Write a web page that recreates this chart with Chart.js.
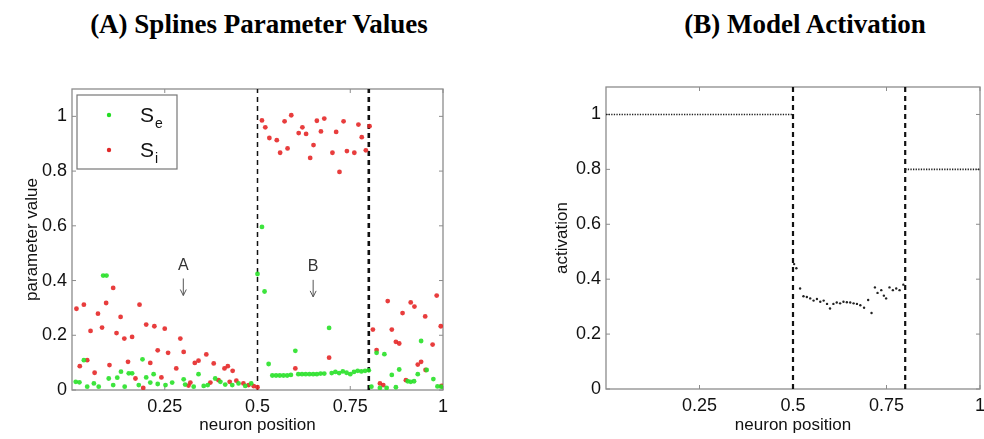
<!DOCTYPE html>
<html>
<head>
<meta charset="utf-8">
<script src="https://cdn.jsdelivr.net/npm/chart.js@4/dist/chart.umd.min.js"></script>
<style>
body { margin: 0; background: #fff; width: 984px; height: 439px; overflow: hidden; position: relative; }
.title { position: absolute; top: 9px; font: bold 27px "Liberation Serif", "Times New Roman", serif; color: #000; white-space: nowrap; transform: translateX(-50%); }
canvas { position: absolute; top: 0; }
</style>
</head>
<body>
<div class="title" style="left:259px">(A) Splines Parameter Values</div>
<div class="title" style="left:805px">(B) Model Activation</div>
<canvas id="paramChart" width="490" height="439" style="left:0"></canvas>
<canvas id="actChart" width="494" height="439" style="left:490px"></canvas>
<script>
'use strict';
// =============== data ===============
const positionTicks = [0.25, 0.5, 0.75, 1];
const valueTicks = [0, 0.2, 0.4, 0.6, 0.8, 1];
const boundaries = [0.5, 0.8];

// S_e per neuron
const seX = [0.01, 0.02, 0.032, 0.041, 0.059, 0.072, 0.084, 0.093, 0.099, 0.111, 0.122, 0.132, 0.142, 0.153, 0.162, 0.18, 0.19, 0.2, 0.211, 0.22, 0.231, 0.252, 0.27, 0.301, 0.305, 0.328, 0.341, 0.355, 0.366, 0.386, 0.4, 0.413, 0.432, 0.449, 0.467, 0.483,
    0.5, 0.512, 0.519, 0.53, 0.54, 0.55, 0.56, 0.57, 0.58, 0.59, 0.602, 0.61, 0.62, 0.63, 0.64, 0.65, 0.66, 0.67, 0.68, 0.693, 0.7, 0.71, 0.72, 0.73, 0.74, 0.75, 0.76, 0.77, 0.78, 0.79, 0.8,
    0.807, 0.821, 0.83, 0.842, 0.848, 0.862, 0.873, 0.882, 0.905, 0.913, 0.922, 0.932, 0.941, 0.956, 0.974, 0.985, 0.995];
const seY = [0.03, 0.028, 0.109, 0.012, 0.024, 0.012, 0.418, 0.418, 0.042, 0.018, 0.045, 0.067, 0.012, 0.061, 0.061, 0.018, 0.112, 0.046, 0.027, 0.058, 0.022, 0.018, 0.027, 0.039, 0.02, 0.012, 0.058, 0.015, 0.018, 0.042, 0.03, 0.02, 0.018, 0.024, 0.015, 0.024,
    0.424, 0.596, 0.36, 0.095, 0.053, 0.053, 0.053, 0.053, 0.053, 0.055, 0.143, 0.058, 0.058, 0.058, 0.058, 0.058, 0.058, 0.06, 0.06, 0.227, 0.062, 0.066, 0.062, 0.068, 0.063, 0.058, 0.066, 0.07, 0.068, 0.07, 0.072,
    0.012, 0.136, 0.008, 0.131, 0.008, 0.055, 0.01, 0.075, 0.032, 0.03, 0.032, 0.058, 0.179, 0.073, 0.04, 0.013, 0.012];

// S_i per neuron
const siX = [0.012, 0.021, 0.032, 0.041, 0.05, 0.061, 0.07, 0.081, 0.092, 0.101, 0.111, 0.12, 0.131, 0.141, 0.151, 0.162, 0.171, 0.182, 0.192, 0.2, 0.211, 0.222, 0.231, 0.241, 0.25, 0.259, 0.281, 0.292, 0.301, 0.314, 0.319, 0.331, 0.341, 0.362, 0.373, 0.382, 0.395, 0.411, 0.42, 0.425, 0.433, 0.443, 0.462, 0.476, 0.49, 0.5,
    0.512, 0.521, 0.532, 0.552, 0.561, 0.573, 0.581, 0.591, 0.602, 0.611, 0.621, 0.631, 0.642, 0.651, 0.66, 0.671, 0.68, 0.693, 0.702, 0.712, 0.721, 0.732, 0.741, 0.761, 0.772, 0.781, 0.792, 0.802,
    0.811, 0.821, 0.83, 0.839, 0.851, 0.862, 0.873, 0.882, 0.891, 0.9, 0.913, 0.923, 0.932, 0.941, 0.952, 0.953, 0.972, 0.983, 0.994, 0.996];
const siY = [0.297, 0.087, 0.312, 0.109, 0.216, 0.063, 0.279, 0.228, 0.318, 0.091, 0.373, 0.208, 0.267, 0.188, 0.103, 0.194, 0.042, 0.312, 0.008, 0.239, 0.099, 0.233, 0.145, 0.046, 0.224, 0.136, 0.079, 0.188, 0.139, 0.016, 0.027, 0.099, 0.107, 0.13, 0.027, 0.097, 0.036, 0.079, 0.087, 0.03, 0.07, 0.034, 0.024, 0.018, 0.014, 0.01,
    0.985, 0.96, 0.921, 0.913, 0.867, 0.982, 0.883, 1.004, 0.079, 0.939, 0.96, 0.936, 0.848, 0.895, 0.984, 0.945, 0.992, 0.118, 0.867, 0.943, 0.797, 0.982, 0.873, 0.867, 0.97, 0.924, 0.876, 0.964,
    0.221, 0.146, 0.024, 0.018, 0.325, 0.221, 0.176, 0.17, 0.281, 0.036, 0.32, 0.305, 0.093, 0.103, 0.269, 0.073, 0.166, 0.345, 0.233, 0.015];

// activation: flat levels outside the boundaries
const plateauStart = [0, 0.8];
const plateauEnd = [0.5, 1];
const plateauLevel = [1, 0.8];
// activation between the boundaries
const actX = [0.503, 0.509, 0.519, 0.528, 0.537, 0.546, 0.555, 0.564, 0.573, 0.582, 0.591, 0.599, 0.608, 0.617, 0.626, 0.635, 0.644, 0.653, 0.662, 0.671, 0.68, 0.69, 0.701, 0.71, 0.719, 0.726, 0.736, 0.743, 0.749, 0.758, 0.767, 0.776, 0.785, 0.795];
const actY = [0.455, 0.44, 0.366, 0.338, 0.335, 0.33, 0.322, 0.328, 0.318, 0.322, 0.31, 0.293, 0.31, 0.315, 0.312, 0.318, 0.316, 0.315, 0.312, 0.31, 0.305, 0.296, 0.324, 0.277, 0.37, 0.35, 0.36, 0.34, 0.33, 0.37, 0.36, 0.366, 0.36, 0.38];

// arrow marks in panel A
const markText = ['A', 'B'];
const markX = [0.3, 0.65];
const markY = [0.455, 0.45];

// =============== helpers ===============
const pts = (xs, ys) => xs.map((x, i) => ({ x: x, y: ys[i] }));
const tickFont = { family: '"Liberation Sans", Arial, sans-serif', size: 18 };
const titleFont = { family: '"Liberation Sans", Arial, sans-serif', size: 17 };

function boundaryLines(widths) {
    return boundaries.map((b, i) => ({
        data: [{ x: b, y: 0 }, { x: b, y: 1.1 }],
        showLine: true,
        borderColor: '#111',
        borderWidth: widths[i],
        borderDash: [5, 4],
        pointRadius: 0
    }));
}

function scales(yWidth, xHeight, yLabelPad, yTitle) {
    return {
        x: {
            type: 'linear', min: 0, max: 1,
            grid: { display: false, drawTicks: false },
            border: { display: false },
            afterBuildTicks: s => { s.ticks = positionTicks.map(v => ({ value: v })); },
            afterFit: s => { s.height = xHeight; s.paddingLeft = 0; s.paddingRight = 0; },
            ticks: { font: tickFont, color: '#111', padding: 6, maxRotation: 0, callback: v => String(v) },
            title: { display: true, text: 'neuron position', font: titleFont, color: '#111', padding: { top: 0, bottom: 3 } }
        },
        y: {
            type: 'linear', min: 0, max: 1.1,
            grid: { display: false, drawTicks: false },
            border: { display: false },
            afterBuildTicks: s => { s.ticks = valueTicks.map(v => ({ value: v })); },
            afterFit: s => { s.width = yWidth; },
            ticks: { font: tickFont, color: '#111', padding: 5, callback: v => String(v) },
            title: { display: true, text: yTitle, font: titleFont, color: '#111', padding: { top: yLabelPad, bottom: 0 } }
        }
    };
}

// box round the plot with inward ticks on all four sides
const frame = {
    id: 'frame',
    beforeDatasetsDraw(chart) {
        const { ctx, chartArea: a, scales: { x, y } } = chart;
        ctx.save();
        ctx.strokeStyle = '#8c8c8c';
        ctx.lineWidth = 1.3;
        ctx.strokeRect(a.left, a.top, a.width, a.height);
        ctx.lineWidth = 1;
        ctx.beginPath();
        positionTicks.forEach(v => {
            const px = x.getPixelForValue(v);
            ctx.moveTo(px, a.bottom); ctx.lineTo(px, a.bottom - 4);
            ctx.moveTo(px, a.top); ctx.lineTo(px, a.top + 4);
        });
        valueTicks.forEach(v => {
            const py = y.getPixelForValue(v);
            ctx.moveTo(a.left, py); ctx.lineTo(a.left + 4, py);
            ctx.moveTo(a.right, py); ctx.lineTo(a.right - 4, py);
        });
        ctx.stroke();
        ctx.restore();
    }
};

// letters with small down arrows
const marks = {
    id: 'marks',
    afterDatasetsDraw(chart) {
        const { ctx, scales: { x, y } } = chart;
        ctx.save();
        ctx.fillStyle = '#333';
        ctx.strokeStyle = '#555';
        ctx.lineWidth = 1;
        ctx.font = '16px "Liberation Sans", Arial, sans-serif';
        ctx.textAlign = 'center';
        ctx.textBaseline = 'middle';
        markText.forEach((t, i) => {
            const px = x.getPixelForValue(markX[i]);
            const py = y.getPixelForValue(markY[i]);
            ctx.fillText(t, px, py);
            ctx.beginPath();
            ctx.moveTo(px, py + 13); ctx.lineTo(px, py + 30);
            ctx.moveTo(px - 3, py + 24); ctx.lineTo(px, py + 30); ctx.lineTo(px + 3, py + 24);
            ctx.stroke();
        });
        ctx.restore();
    }
};

// legend box with subscripted names
const splineLegend = {
    id: 'splineLegend',
    afterDraw(chart) {
        const { ctx, chartArea: a } = chart;
        const left = a.left + 5, top = a.top + 6;
        ctx.save();
        ctx.fillStyle = '#fff';
        ctx.fillRect(left, top, 100, 74);
        ctx.strokeStyle = '#777';
        ctx.lineWidth = 1.2;
        ctx.strokeRect(left, top, 100, 74);
        [['#22dd22', 'e', 20], ['#e02828', 'i', 55]].forEach(([c, sub, dy]) => {
            ctx.fillStyle = c;
            ctx.beginPath();
            ctx.arc(left + 32, top + dy, 2.2, 0, Math.PI * 2);
            ctx.fill();
            ctx.fillStyle = '#111';
            ctx.textBaseline = 'alphabetic';
            ctx.font = '21px "Liberation Sans", Arial, sans-serif';
            ctx.fillText('S', left + 63, top + dy + 7);
            ctx.font = '14px "Liberation Sans", Arial, sans-serif';
            ctx.fillText(sub, left + 78, top + dy + 13);
        });
        ctx.restore();
    }
};

// =============== panel A ===============
new Chart(document.getElementById('paramChart'), {
    type: 'scatter',
    data: {
        datasets: [
            { label: 'Se', data: pts(seX, seY), backgroundColor: 'rgba(40,225,40,0.9)', borderWidth: 0, pointRadius: 2.4 },
            { label: 'Si', data: pts(siX, siY), backgroundColor: 'rgba(230,40,40,0.9)', borderWidth: 0, pointRadius: 2.4 },
            ...boundaryLines([1.5, 2.6])
        ]
    },
    options: {
        responsive: false,
        animation: false,
        devicePixelRatio: 1,
        layout: { padding: { top: 89, right: 47, left: 0, bottom: 0 } },
        plugins: { legend: { display: false }, tooltip: { enabled: false } },
        scales: scales(72, 49, 22, 'parameter value')
    },
    plugins: [frame, marks, splineLegend]
});

// =============== panel B ===============
new Chart(document.getElementById('actChart'), {
    type: 'scatter',
    data: {
        datasets: [
            ...plateauLevel.map((lv, i) => ({
                data: [{ x: plateauStart[i], y: lv }, { x: plateauEnd[i], y: lv }],
                showLine: true,
                borderColor: '#222',
                borderWidth: 1.6,
                borderDash: [1.3, 1.3],
                pointRadius: 0
            })),
            { data: pts(actX, actY), backgroundColor: '#222', borderWidth: 0, pointRadius: 1.2 },
            ...boundaryLines([2.2, 2.2])
        ]
    },
    options: {
        responsive: false,
        animation: false,
        devicePixelRatio: 1,
        layout: { padding: { top: 87, right: 1, left: 0, bottom: 0 } },
        plugins: { legend: { display: false }, tooltip: { enabled: false } },
        scales: scales(116, 50, 62, 'activation')
    },
    plugins: [frame]
});
</script>
</body>
</html>
